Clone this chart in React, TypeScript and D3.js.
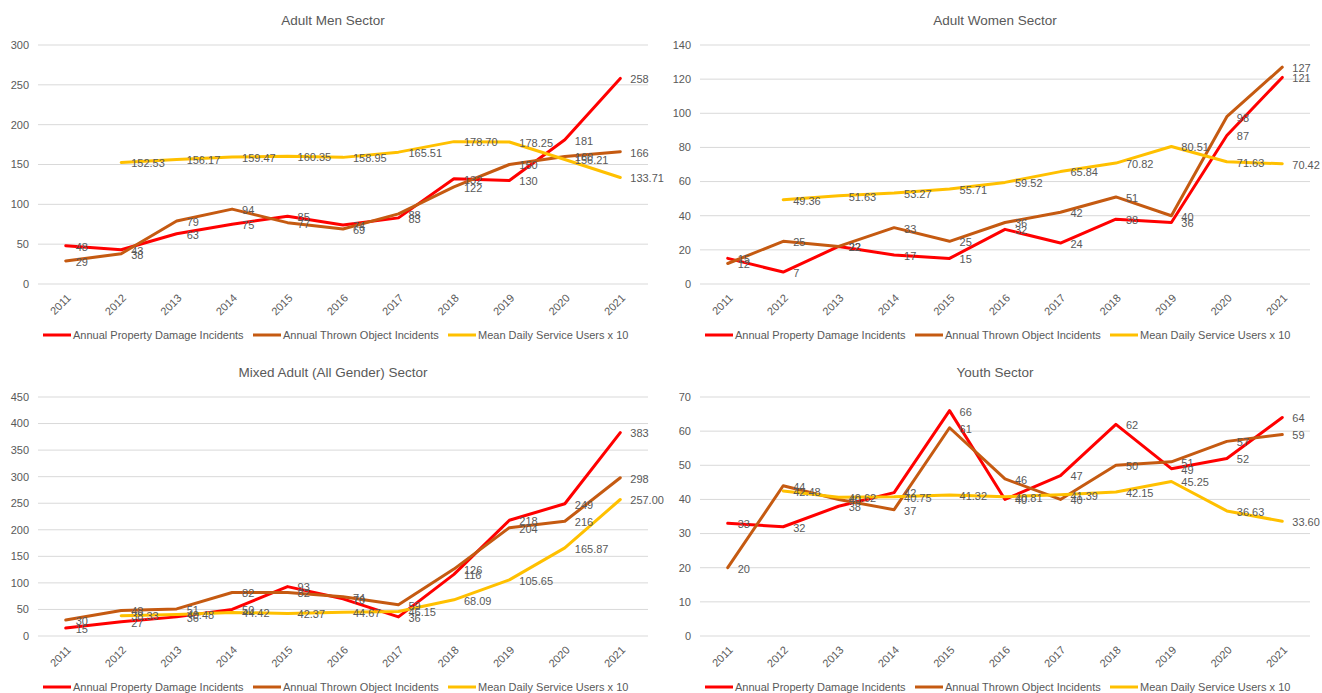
import React from 'react';
import * as d3 from 'd3';

const years = ['2011', '2012', '2013', '2014', '2015', '2016', '2017', '2018', '2019', '2020', '2021'];
const seriesNames = ['Annual Property Damage Incidents', 'Annual Thrown Object Incidents', 'Mean Daily Service Users x 10'];
const seriesColors = ['#FF0000', '#C55A11', '#FFC000'];

const menProperty = [48, 43, 63, 75, 85, 74, 83, 132, 130, 181, 258];
const menThrown = [29, 38, 79, 94, 77, 69, 88, 122, 150, 160, 166];
const menUsers = [null, 152.53, 156.17, 159.47, 160.35, 158.95, 165.51, 178.7, 178.25, 156.21, 133.71];

const womenProperty = [15, 7, 22, 17, 15, 32, 24, 38, 36, 87, 121];
const womenThrown = [12, 25, 22, 33, 25, 36, 42, 51, 40, 98, 127];
const womenUsers = [null, 49.36, 51.63, 53.27, 55.71, 59.52, 65.84, 70.82, 80.51, 71.63, 70.42];

const mixedProperty = [15, 27, 36, 50, 93, 70, 36, 116, 218, 249, 383];
const mixedThrown = [30, 48, 51, 82, 82, 74, 59, 126, 204, 216, 298];
const mixedUsers = [null, 38.33, 40.48, 44.42, 42.37, 44.67, 46.15, 68.09, 105.65, 165.87, 257.0];

const youthProperty = [33, 32, 38, 42, 66, 40, 47, 62, 49, 52, 64];
const youthThrown = [20, 44, 40, 37, 61, 46, 40, 50, 51, 57, 59];
const youthUsers = [null, 42.48, 40.62, 40.75, 41.32, 40.81, 41.39, 42.15, 45.25, 36.63, 33.6];

const titles = ['Adult Men Sector', 'Adult Women Sector', 'Mixed Adult (All Gender) Sector', 'Youth Sector'];
const yMaxes = [300, 140, 450, 70];
const ySteps = [50, 20, 50, 10];
const panelSeries = [
  [menProperty, menThrown, menUsers],
  [womenProperty, womenThrown, womenUsers],
  [mixedProperty, mixedThrown, mixedUsers],
  [youthProperty, youthThrown, youthUsers],
];

const W = 1322;
const H = 693;
const PANEL_W = 662;
const PANEL_H = 352;
const PLOT_L = 38;
const PLOT_R = 648;
const PLOT_T = 45;
const PLOT_B = 284;
const TEXT = '#595959';
const GRID = '#D9D9D9';
const FONT = '"Liberation Sans", Arial, sans-serif';

const legendOffsets = [-300, -90, 105];

function Panel({ idx }: { idx: number }) {
  const col = idx % 2;
  const row = Math.floor(idx / 2);
  const ox = col * PANEL_W;
  const oy = row * PANEL_H;
  const x = d3.scalePoint<string>().domain(years).range([PLOT_L, PLOT_R]).padding(0.5);
  const y = d3.scaleLinear().domain([0, yMaxes[idx]]).range([PLOT_B, PLOT_T]);
  const ticks = d3.range(0, yMaxes[idx] + ySteps[idx] / 2, ySteps[idx]);
  const series = panelSeries[idx];
  const line = d3
    .line<number | null>()
    .defined((d) => d !== null)
    .x((_, i) => x(years[i]) as number)
    .y((d) => y(d as number));
  const f2 = d3.format('.2f');
  const cx = (PLOT_L + PLOT_R) / 2;
  return (
    <g transform={`translate(${ox},${oy})`} fontFamily={FONT}>
      <text x={cx - 10} y={20} textAnchor="middle" dy="0.35em" fontSize={13.5} fill={TEXT}>
        {titles[idx]}
      </text>
      {ticks.map((t) => (
        <g key={t}>
          <line x1={PLOT_L} x2={PLOT_R} y1={y(t)} y2={y(t)} stroke={GRID} strokeWidth={1} />
          <text x={29} y={y(t)} dy="0.35em" textAnchor="end" fontSize={11} fill={TEXT}>
            {t}
          </text>
        </g>
      ))}
      {years.map((yr) => (
        <text
          key={yr}
          transform={`translate(${(x(yr) as number) + 3},${PLOT_B + 12}) rotate(-45)`}
          textAnchor="end"
          dy="0.35em"
          fontSize={11}
          fill={TEXT}
        >
          {yr}
        </text>
      ))}
      {series.map((s, si) => (
        <path
          key={si}
          d={line(s as (number | null)[]) || ''}
          fill="none"
          stroke={seriesColors[si]}
          strokeWidth={3}
          strokeLinejoin="round"
          strokeLinecap="round"
        />
      ))}
      {series.map((s, si) =>
        (s as (number | null)[]).map((v, i) =>
          v === null ? null : (
            <text
              key={`${si}-${i}`}
              x={(x(years[i]) as number) + 10}
              y={y(v) + 1}
              dy="0.35em"
              fontSize={11}
              fill={TEXT}
            >
              {si === 2 ? f2(v) : String(v)}
            </text>
          )
        )
      )}
      {seriesNames.map((n, si) => (
        <g key={n} transform={`translate(${cx + legendOffsets[si]},335)`}>
          <line x1={0} x2={28} y1={0} y2={0} stroke={seriesColors[si]} strokeWidth={3} />
          <text x={30} y={0} dy="0.35em" fontSize={11} fill={TEXT}>
            {n}
          </text>
        </g>
      ))}
    </g>
  );
}

export default function App() {
  return (
    <svg
      width={W}
      height={H}
      style={{ position: 'absolute', left: 0, top: 0, background: '#fff' }}
    >
      <rect width={W} height={H} fill="#fff" />
      {[0, 1, 2, 3].map((i) => (
        <Panel key={i} idx={i} />
      ))}
    </svg>
  );
}
